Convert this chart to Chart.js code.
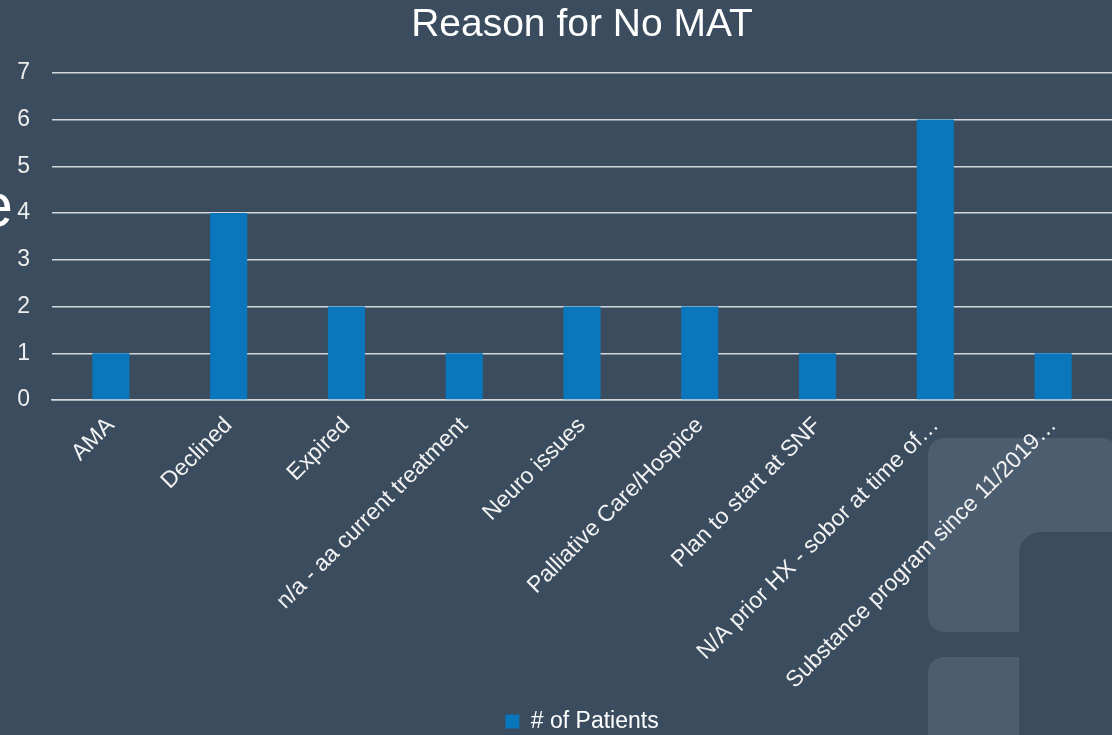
<!DOCTYPE html>
<html>
<head>
<meta charset="utf-8">
<script src="https://cdn.jsdelivr.net/npm/chart.js@4/dist/chart.umd.min.js"></script>
<style>
  html, body { margin: 0; padding: 0; }
  body { width: 1112px; height: 735px; background: #3a4c5e; overflow: hidden; position: relative; font-family: "Liberation Sans", Arial, sans-serif; }
  .deco { position: absolute; }
  #shapeA { left: 928px; top: 438px; width: 190px; height: 194px; background: #4b5d6e; border-radius: 16px; }
  #shapeB { left: 1019px; top: 532px; width: 110px; height: 220px; background: #3a4c5e; border-top-left-radius: 22px; }
  #shapeC { left: 928px; top: 657px; width: 91px; height: 100px; background: #4b5d6e; border-top-left-radius: 16px; }
  #stray { position: absolute; left: -21px; top: 175px; font-size: 61px; line-height: 1; color: #ffffff; }
  #wrap { position: absolute; left: 0; top: 0; width: 1112px; height: 735px; }
</style>
</head>
<body>
<div class="deco" id="shapeA"></div>
<div class="deco" id="shapeB"></div>
<div class="deco" id="shapeC"></div>
<span id="stray">e</span>
<div id="wrap"><canvas id="chart"></canvas></div>
<script>
  // dados do grafico
  var categorias = [
    "AMA",
    "Declined",
    "Expired",
    "n/a - aa current treatment",
    "Neuro issues",
    "Palliative Care/Hospice",
    "Plan to start at SNF",
    "N/A prior HX - sobor at time of\u2026",
    "Substance program since 11/2019\u2026"
  ];
  var pacientes = [1, 4, 2, 1, 2, 2, 1, 6, 1];
  var serieNome = "# of Patients";
  var titulo = "Reason for No MAT";
  var yMax = 7;

  Chart.defaults.font.family = '"Liberation Sans", Arial, sans-serif';

  var el = document.getElementById('chart');
  new Chart(el, {
    type: 'bar',
    data: {
      labels: categorias,
      datasets: [{
        label: serieNome,
        data: pacientes,
        backgroundColor: "#0a77bd",
        borderWidth: 0,
        barPercentage: 0.315,
        categoryPercentage: 1
      }]
    },
    options: {
      responsive: true,
      maintainAspectRatio: false,
      animation: false,
      layout: { padding: { left: 17, right: 0, top: 0, bottom: -8 } },
      plugins: {
        title: {
          display: true,
          text: titulo,
          color: "#ffffff",
          fullSize: false,
          font: { size: 39, weight: 'normal' },
          padding: { top: 2, bottom: 24 }
        },
        legend: {
          display: true,
          position: 'bottom',
          fullSize: false,
          labels: {
            color: "#ffffff",
            font: { size: 23 },
            boxWidth: 14,
            boxHeight: 14,
            padding: 0
          }
        },
        tooltip: { enabled: false }
      },
      scales: {
        x: {
          grid: { display: false, drawTicks: false },
          border: { display: true, color: "#d4d8dc", width: 1.5 },
          ticks: {
            color: "#f2f2f2",
            font: { size: 23 },
            minRotation: 45,
            maxRotation: 45,
            autoSkip: false,
            padding: 12
          },
          // altura fixa do eixo para casar com a figura
          afterFit: function(scale) { scale.height = 310; }
        },
        y: {
          min: 0,
          max: yMax,
          grid: { color: "#d4d8dc", lineWidth: 1.5, drawTicks: false },
          border: { display: false },
          ticks: {
            stepSize: 1,
            color: "#eeeeee",
            font: { size: 23 },
            padding: 22
          },
          afterFit: function(scale) { scale.width = 35; }
        }
      }
    }
  });
</script>
</body>
</html>
